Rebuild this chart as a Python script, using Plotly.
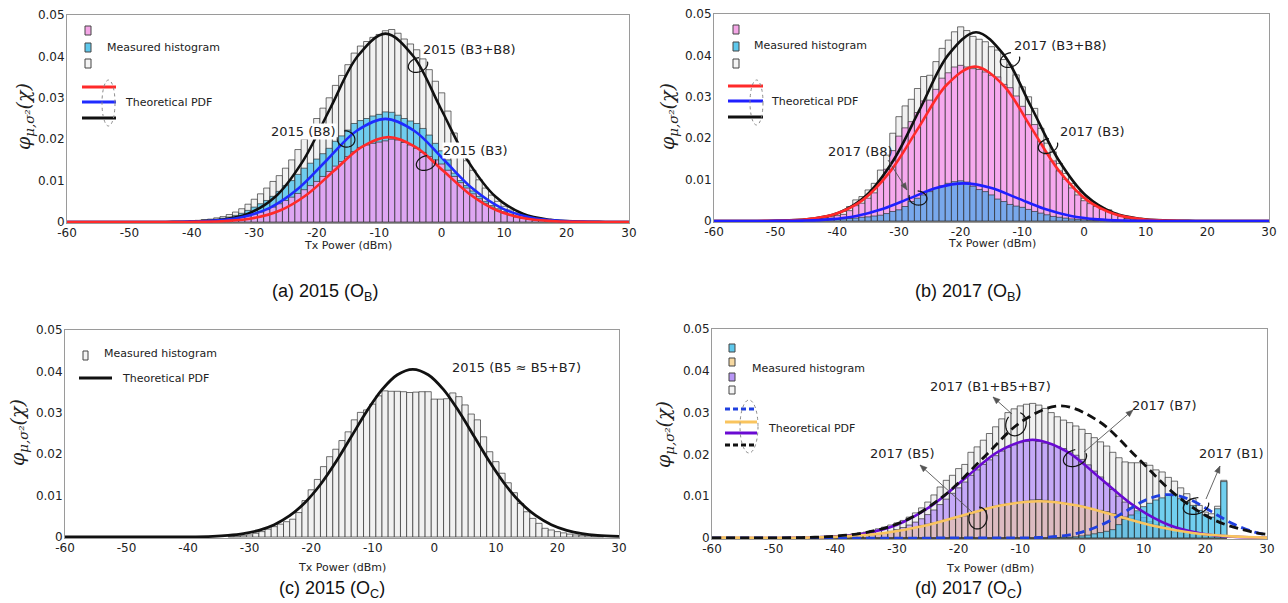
import numpy as np
import plotly.graph_objects as go

# ---------------- data ----------------
x_tick_vals = [-60, -50, -40, -30, -20, -10, 0, 10, 20, 30]
x_tick_text = ['-60', '-50', '-40', '-30', '-20', '-10', '0', '10', '20', '30']
y_tick_vals = [0, 0.01, 0.02, 0.03, 0.04, 0.05]
y_tick_text = ['0', '0.01', '0.02', '0.03', '0.04', '0.05']

# (a) 2015 O_B : histograms, 1 dBm bins
a_bins = list(range(-40, 21))
a_hist_total = [0.0003, 0.0004, 0.0006, 0.0007, 0.0010, 0.0013, 0.0018, 0.0024, 0.0032, 0.0043,
                0.0055, 0.0068, 0.0082, 0.0098, 0.0112, 0.0130, 0.0150, 0.0175, 0.0200, 0.0225,
                0.0250, 0.0275, 0.0300, 0.0330, 0.0354, 0.0380, 0.0408, 0.0425, 0.0436, 0.0446,
                0.0453, 0.0462, 0.0465, 0.0456, 0.0442, 0.0430, 0.0416, 0.0394, 0.0368, 0.0340,
                0.0312, 0.0268, 0.0215, 0.0180, 0.0148, 0.0125, 0.0102, 0.0082, 0.0065, 0.0050,
                0.0038, 0.0029, 0.0022, 0.0016, 0.0011, 0.0008, 0.0006, 0.0004, 0.0003, 0.0002, 0.0002]
a_hist_b8 = [0.0002, 0.0003, 0.0004, 0.0005, 0.0007, 0.0009, 0.0012, 0.0016, 0.0021, 0.0028,
             0.0036, 0.0044, 0.0052, 0.0062, 0.0074, 0.0088, 0.0100, 0.0115, 0.0130, 0.0142,
             0.0152, 0.0165, 0.0178, 0.0195, 0.0208, 0.0222, 0.0238, 0.0245, 0.0250, 0.0256,
             0.0260, 0.0266, 0.0265, 0.0258, 0.0250, 0.0244, 0.0238, 0.0226, 0.0210, 0.0190,
             0.0172, 0.0150, 0.0118, 0.0100, 0.0088, 0.0075, 0.0062, 0.0050, 0.0040, 0.0032,
             0.0025, 0.0019, 0.0014, 0.0010, 0.0007, 0.0005, 0.0004, 0.0003, 0.0002, 0.0002, 0.0001]
a_hist_b3 = [0.0001, 0.0001, 0.0002, 0.0002, 0.0003, 0.0004, 0.0006, 0.0008, 0.0011, 0.0015,
             0.0019, 0.0024, 0.0030, 0.0036, 0.0044, 0.0052, 0.0060, 0.0069, 0.0078, 0.0088,
             0.0098, 0.0110, 0.0122, 0.0135, 0.0146, 0.0158, 0.0170, 0.0180, 0.0186, 0.0190,
             0.0193, 0.0196, 0.0200, 0.0198, 0.0192, 0.0186, 0.0178, 0.0168, 0.0158, 0.0150,
             0.0140, 0.0125, 0.0110, 0.0095, 0.0082, 0.0068, 0.0056, 0.0045, 0.0036, 0.0028,
             0.0022, 0.0017, 0.0012, 0.0009, 0.0006, 0.0004, 0.0003, 0.0002, 0.0001, 0.0001, 0.0001]
# (a) theoretical PDFs (sampled points)
a_pdf_b3_x = [-60, -43.3, -38.95, -34.6, -30.25, -25.9, -21.55, -17.2, -12.85, -8.5,
              -4.15, 0.2, 4.55, 8.9, 13.25, 17.6, 21.95, 26.3, 30]
a_pdf_b3_y = [0, 0.00001, 0.00005, 0.00023, 0.0009, 0.00277, 0.00666, 0.01243, 0.01809, 0.0205,
              0.01809, 0.01243, 0.00666, 0.00277, 0.0009, 0.00023, 0.00005, 0.00001, 0]
a_pdf_b8_x = [-60, -46.2, -41.55, -36.9, -32.25, -27.6, -22.95, -18.3, -13.65, -9,
              -4.35, 0.3, 4.95, 9.6, 14.25, 18.9, 23.55, 28.2, 30]
a_pdf_b8_y = [0, 0.00001, 0.00006, 0.00028, 0.00109, 0.00337, 0.00808, 0.0151, 0.02197, 0.0249,
              0.02197, 0.0151, 0.00808, 0.00337, 0.00109, 0.00028, 0.00006, 0.00001, 0]
a_pdf_tot_x = [-60, -44.2, -39.8, -35.4, -31, -26.6, -22.2, -17.8, -13.4, -9,
               -4.6, -0.2, 4.2, 8.6, 13, 17.4, 21.8, 26.2, 30]
a_pdf_tot_y = [0, 0.00001, 0.0001, 0.00051, 0.0020, 0.00616, 0.01477, 0.0276, 0.04015, 0.0455,
               0.04015, 0.0276, 0.01477, 0.00616, 0.0020, 0.00051, 0.0001, 0.00001, 0]

# (b) 2017 O_B
b_bins = list(range(-45, 11))
b_hist_total = [0.0003, 0.0004, 0.0007, 0.0010, 0.0014, 0.0019, 0.0023, 0.0035, 0.0051, 0.0059,
                0.0075, 0.0091, 0.0123, 0.0159, 0.0212, 0.0252, 0.0278, 0.0294, 0.0320, 0.0349,
                0.0352, 0.0385, 0.0417, 0.0437, 0.0457, 0.0469, 0.0460, 0.0446, 0.0439, 0.0433,
                0.0421, 0.0413, 0.0390, 0.0377, 0.0353, 0.0324, 0.0300, 0.0272, 0.0224, 0.0188,
                0.0167, 0.0139, 0.0115, 0.0091, 0.0071, 0.0055, 0.0047, 0.0039, 0.0031, 0.0027,
                0.0019, 0.0012, 0.0006, 0.0003, 0.0002, 0.0001]
b_hist_b3 = [0.0002, 0.0003, 0.0005, 0.0007, 0.0010, 0.0013, 0.0016, 0.0025, 0.0037, 0.0043,
             0.0055, 0.0068, 0.0095, 0.0125, 0.0170, 0.0205, 0.0225, 0.0240, 0.0262, 0.0290,
             0.0292, 0.0318, 0.0345, 0.0358, 0.0372, 0.0376, 0.0372, 0.0368, 0.0366, 0.0360,
             0.0352, 0.0348, 0.0330, 0.0322, 0.0302, 0.0277, 0.0257, 0.0233, 0.0192, 0.0162,
             0.0145, 0.0121, 0.0101, 0.0080, 0.0063, 0.0049, 0.0042, 0.0035, 0.0028, 0.0024,
             0.0017, 0.0011, 0.0005, 0.0003, 0.0002, 0.0001]
b_hist_b8 = [0.0001, 0.0001, 0.0002, 0.0002, 0.0003, 0.0004, 0.0005, 0.0006, 0.0007, 0.0009,
             0.0010, 0.0012, 0.0014, 0.0018, 0.0023, 0.0027, 0.0035, 0.0047, 0.0055, 0.0063,
             0.0071, 0.0079, 0.0085, 0.0091, 0.0095, 0.0097, 0.0094, 0.0084, 0.0076, 0.0071,
             0.0063, 0.0053, 0.0047, 0.0040, 0.0036, 0.0033, 0.0028, 0.0023, 0.0019, 0.0015,
             0.0011, 0.0009, 0.0007, 0.0005, 0.0004, 0.0003, 0.0002, 0.0001, 0.0001, 0.0001,
             0, 0, 0, 0, 0, 0]
b_pdf_b3_x = [-60, -54.1, -49.55, -45.0, -40.45, -35.9, -31.35, -26.8, -22.25, -17.7,
              -13.15, -8.6, -4.05, 0.5, 5.05, 9.6, 14.15, 18.7, 30]
b_pdf_b3_y = [0, 0.00001, 0.00008, 0.00041, 0.00164, 0.00505, 0.01211, 0.02262, 0.03292, 0.0373,
              0.03292, 0.02262, 0.01211, 0.00505, 0.00164, 0.00041, 0.00008, 0.00001, 0]
b_pdf_b8_x = [-60, -54.3, -49.95, -45.6, -41.25, -36.9, -32.55, -28.2, -23.85, -19.5,
              -15.15, -10.8, -6.45, -2.1, 2.25, 6.6, 10.95, 15.3, 30]
b_pdf_b8_y = [0, 0, 0.00002, 0.0001, 0.0004, 0.00123, 0.00295, 0.00552, 0.00803, 0.0091,
              0.00803, 0.00552, 0.00295, 0.00123, 0.0004, 0.0001, 0.00002, 0, 0]
b_pdf_tot_x = [-60, -53.1, -48.65, -44.2, -39.75, -35.3, -30.85, -26.4, -21.95, -17.5,
               -13.05, -8.6, -4.15, 0.3, 4.75, 9.2, 13.65, 18.1, 30]
b_pdf_tot_y = [0, 0.00001, 0.0001, 0.00051, 0.0020, 0.00617, 0.01481, 0.02766, 0.04024, 0.0456,
               0.04024, 0.02766, 0.01481, 0.00617, 0.0020, 0.00051, 0.0001, 0.00001, 0]

# (c) 2015 O_C
c_bins = list(range(-33, 28))
c_hist_total = [0.0001, 0.0002, 0.0003, 0.0005, 0.0009, 0.0013, 0.0019, 0.0025, 0.0031, 0.0037,
                0.0043, 0.0059, 0.0088, 0.0114, 0.0139, 0.0170, 0.0194, 0.0212, 0.0233, 0.0254,
                0.0283, 0.0301, 0.0307, 0.0321, 0.0341, 0.0353, 0.0352, 0.0352, 0.0351, 0.0349,
                0.0350, 0.0351, 0.0351, 0.0333, 0.0333, 0.0334, 0.0348, 0.0339, 0.0319, 0.0297,
                0.0283, 0.0242, 0.0206, 0.0182, 0.0154, 0.0131, 0.0107, 0.0081, 0.0061, 0.0045,
                0.0033, 0.0021, 0.0017, 0.0013, 0.0010, 0.0007, 0.0005, 0.0004, 0.0003, 0.0002, 0.0001]
c_pdf_x = [-60, -45, -40, -36, -33.5, -31, -28.5, -26, -23.5, -21, -18.5, -16, -13.5, -11, -8.5,
           -6, -3.5, -1, 1.5, 4, 6.5, 9, 11.5, 14, 16.5, 19, 21.5, 24, 26.5, 30]
c_pdf_y = [0, 0.00001, 0.00004, 0.00017, 0.00039, 0.00082, 0.00162, 0.00298, 0.00514, 0.00834,
           0.01268, 0.0181, 0.0242, 0.0303, 0.0356, 0.0392, 0.0405, 0.0392, 0.0356, 0.0303,
           0.0242, 0.0181, 0.01268, 0.00834, 0.00514, 0.00298, 0.00162, 0.00082, 0.00039, 0.00013]

# (d) 2017 O_C
d_bins = list(range(-42, 24))
d_hist_total = [0.0004, 0.0005, 0.0006, 0.0007, 0.0008, 0.0010, 0.0012, 0.0014, 0.0018, 0.0022,
                0.0026, 0.0031, 0.0036, 0.0042, 0.0050, 0.0060, 0.0072, 0.0086, 0.0103, 0.0122,
                0.0138, 0.0150, 0.0166, 0.0176, 0.0205, 0.0218, 0.0234, 0.0250, 0.0266, 0.0285,
                0.0300, 0.0309, 0.0316, 0.0320, 0.0322, 0.0318, 0.0310, 0.0300, 0.0290, 0.0282,
                0.0276, 0.0268, 0.0260, 0.0250, 0.0240, 0.0230, 0.0220, 0.0205, 0.0192, 0.0182,
                0.0180, 0.0180, 0.0180, 0.0174, 0.0163, 0.0158, 0.0145, 0.0136, 0.0120, 0.0106,
                0.0094, 0.0078, 0.0062, 0.0058, 0.0076, 0.0138]
d_hist_b7 = [0.0002, 0.0002, 0.0003, 0.0003, 0.0004, 0.0005, 0.0006, 0.0007, 0.0009, 0.0011,
             0.0013, 0.0016, 0.0020, 0.0025, 0.0031, 0.0038, 0.0046, 0.0056, 0.0067, 0.0080,
             0.0093, 0.0107, 0.0120, 0.0134, 0.0150, 0.0163, 0.0176, 0.0187, 0.0197, 0.0208,
             0.0217, 0.0223, 0.0228, 0.0231, 0.0233, 0.0231, 0.0227, 0.0224, 0.0219, 0.0214,
             0.0206, 0.0198, 0.0188, 0.0175, 0.0160, 0.0146, 0.0131, 0.0116, 0.0100, 0.0086,
             0.0072, 0.0060, 0.0049, 0.0039, 0.0031, 0.0024, 0.0018, 0.0013, 0.0010, 0.0007,
             0.0005, 0.0004, 0.0003, 0.0002, 0.0001, 0.0001]
d_hist_b5 = [0.0002, 0.0002, 0.0003, 0.0003, 0.0004, 0.0005, 0.0006, 0.0007, 0.0008, 0.0010,
             0.0012, 0.0014, 0.0016, 0.0018, 0.0021, 0.0025, 0.0030, 0.0033, 0.0036, 0.0040,
             0.0044, 0.0046, 0.0050, 0.0053, 0.0058, 0.0063, 0.0066, 0.0072, 0.0076, 0.0080,
             0.0082, 0.0084, 0.0086, 0.0088, 0.0091, 0.0092, 0.0090, 0.0088, 0.0086, 0.0084,
             0.0080, 0.0078, 0.0076, 0.0072, 0.0068, 0.0066, 0.0063, 0.0058, 0.0055, 0.0050,
             0.0046, 0.0043, 0.0040, 0.0035, 0.0031, 0.0027, 0.0023, 0.0019, 0.0016, 0.0013,
             0.0011, 0.0009, 0.0007, 0.0006, 0.0005, 0.0004]
d_hist_b1 = [0] * 37 + [0.0001, 0.0001, 0.0002, 0.0002, 0.0003, 0.0005, 0.0007, 0.0010, 0.0013, 0.0016,
                        0.0020, 0.0032, 0.0045, 0.0055, 0.0065, 0.0075, 0.0083, 0.0091, 0.0096, 0.0103,
                        0.0104, 0.0094, 0.0086, 0.0078, 0.0066, 0.0056, 0.0050, 0.0070, 0.0135]
d_pdf_b7_x = [-60, -52, -46.5, -41, -35.5, -30, -24.5, -19, -13.5, -8, -2.5, 3, 8.5, 14, 19.5, 25, 30]
d_pdf_b7_y = [0, 0.000007, 0.00005, 0.00026, 0.00103, 0.00318, 0.00763, 0.01425, 0.02074, 0.0235,
              0.02074, 0.01425, 0.00763, 0.00318, 0.00103, 0.00026, 0.00006]
d_pdf_b5_x = [-60, -57, -50.75, -44.5, -38.25, -32, -25.75, -19.5, -13.25, -7, -0.75, 5.5, 11.75, 18, 24.25, 30]
d_pdf_b5_y = [0.0001, 0.0001, 0.00005, 0.0001, 0.00039, 0.00119, 0.00286, 0.00534, 0.00777, 0.0088,
              0.00777, 0.00534, 0.00286, 0.00119, 0.00039, 0.0001]
d_pdf_b1_x = [-60, -14, -10.5, -7, -3.5, 0, 3.5, 7, 10.5, 14, 17.5, 21, 24.5, 28, 30]
d_pdf_b1_y = [0, 0.000003, 0.00002, 0.00012, 0.00046, 0.00141, 0.00338, 0.00631, 0.00918, 0.0104,
              0.00918, 0.00631, 0.00338, 0.00141, 0.00076]
d_pdf_tot_x = [-60, -53.5, -47.25, -41, -34.75, -28.5, -22.25, -16, -9.75, -3.5, 2.75, 9, 15.25, 21.5, 27.75, 30]
d_pdf_tot_y = [0, 0.00001, 0.00007, 0.00035, 0.00139, 0.00428, 0.01026, 0.01917, 0.02789, 0.0316,
               0.02789, 0.01917, 0.01026, 0.00428, 0.00139, 0.00087]

# ---------------- layout helpers ----------------
W, H = 1288, 603
YLO = 0.00035
# plot-area pixel boxes: left, right, top(y=0.05), bottom(y=0)
boxes = {
    1: (67, 629, 15, 222),
    2: (714, 1269, 14, 221),
    3: (65, 619, 330, 537),
    4: (712, 1267, 329, 538),
}
EDGE = 'rgba(45,45,45,0.85)'
TXT = '#222222'
SANS = 'DejaVu Sans'


def P(x, y):
    return x / W, 1 - y / H


fig = go.Figure()
layout = dict(width=W, height=H, margin=dict(l=0, r=0, t=0, b=0, pad=0, autoexpand=False),
              paper_bgcolor='white', plot_bgcolor='white', barmode='overlay',
              showlegend=False, shapes=[], annotations=[])

for i, (l, r, t, b) in boxes.items():
    extra = YLO / 0.05 * (b - t)
    sx = '' if i == 1 else str(i)
    layout['xaxis' + sx] = dict(domain=[l / W, r / W], range=[-60, 30], anchor='y' + sx,
                                tickvals=x_tick_vals, ticktext=x_tick_text, ticks='',
                                automargin=False, ticklabelstandoff=-2,
                                showgrid=False, zeroline=False, showline=True, mirror=True,
                                linecolor='#9a9a9a', linewidth=1,
                                tickfont=dict(family=SANS, size=12, color=TXT))
    layout['yaxis' + sx] = dict(domain=[1 - (b + extra) / H, 1 - t / H], range=[-YLO, 0.05],
                                anchor='x' + sx, tickvals=y_tick_vals, ticktext=y_tick_text,
                                ticks='', showgrid=False, zeroline=False, showline=True,
                                automargin=False, ticklabelstandoff=-1,
                                mirror=True, linecolor='#9a9a9a', linewidth=1,
                                tickfont=dict(family=SANS, size=12, color=TXT))


def bars(i, xs, ys, color):
    sx = '' if i == 1 else str(i)
    fig.add_trace(go.Bar(x=xs, y=ys, width=1, marker=dict(color=color, line=dict(color=EDGE, width=0.8)),
                         xaxis='x' + sx, yaxis='y' + sx, hoverinfo='skip'))


def curve(i, xs, ys, color, dash='solid', width=2.6):
    sx = '' if i == 1 else str(i)
    fig.add_trace(go.Scatter(x=xs, y=ys, mode='lines', line=dict(color=color, width=width, dash=dash,
                                                                 shape='spline', smoothing=1.0),
                             xaxis='x' + sx, yaxis='y' + sx, hoverinfo='skip'))


def text(x, y, s, size=13, anchor='center', bg=None, family=SANS, angle=0, color=TXT):
    px, py = P(x, y)
    a = dict(x=px, y=py, xref='paper', yref='paper', text=s, showarrow=False,
             xanchor=anchor, yanchor='middle', textangle=angle,
             font=dict(family=family, size=size, color=color))
    if bg:
        a.update(bgcolor=bg, borderpad=0)
    layout['annotations'].append(a)


def arrow(hx, hy, tx, ty):
    a, b_ = P(tx, ty)
    c, d = P(hx, hy)
    layout['shapes'].append(dict(type='line', xref='paper', yref='paper', x0=a, y0=b_, x1=c, y1=d,
                                 line=dict(color='#555555', width=0.9)))
    v = np.array([hx - tx, hy - ty], float)
    v /= np.linalg.norm(v)
    n = np.array([-v[1], v[0]])
    base = np.array([hx, hy]) - 7 * v
    p1 = base + 2.8 * n
    p2 = base - 2.8 * n
    pts = [(hx, hy), tuple(p1), tuple(p2)]
    path = 'M ' + ' L '.join(f'{x / W:.5f},{1 - y / H:.5f}' for x, y in pts) + ' Z'
    layout['shapes'].append(dict(type='path', xref='paper', yref='paper', path=path,
                                 fillcolor='#555555', line=dict(color='#555555', width=0.5)))


def rect(x0, y0, x1, y1, fill):
    a, b_ = P(x0, y0)
    c, d = P(x1, y1)
    layout['shapes'].append(dict(type='rect', xref='paper', yref='paper', x0=a, y0=d, x1=c, y1=b_,
                                 fillcolor=fill, line=dict(color='#444444', width=1)))


def hline(x0, x1, y, color, dash='solid', width=3):
    a, b_ = P(x0, y)
    c, _ = P(x1, y)
    layout['shapes'].append(dict(type='line', xref='paper', yref='paper', x0=a, y0=b_, x1=c, y1=b_,
                                 line=dict(color=color, width=width, dash=dash)))


def ellipse(x0, y0, x1, y1):
    a, b_ = P(x0, y0)
    c, d = P(x1, y1)
    layout['shapes'].append(dict(type='circle', xref='paper', yref='paper', x0=a, y0=d, x1=c, y1=b_,
                                 line=dict(color='#8a8a8a', width=1, dash='dot')))


def curl(cx, cy, rx, ry, rot, gap):
    t = np.radians(np.linspace(gap + 40, gap + 330, 40))
    R = np.radians(rot)
    xs = cx + rx * np.cos(t) * np.cos(R) - ry * np.sin(t) * np.sin(R)
    ys = cy + rx * np.cos(t) * np.sin(R) + ry * np.sin(t) * np.cos(R)
    path = 'M ' + ' L '.join(f'{x / W:.5f},{1 - y / H:.5f}' for x, y in zip(xs, ys))
    layout['shapes'].append(dict(type='path', xref='paper', yref='paper', path=path,
                                 line=dict(color='#111111', width=1.2)))


# ---------------- panel (a) ----------------
bars(1, a_bins, a_hist_total, '#f1f1f1')
bars(1, a_bins, a_hist_b8, '#6fcdee')
bars(1, a_bins, a_hist_b3, '#dea6f2')
curve(1, a_pdf_tot_x, a_pdf_tot_y, '#111111')
curve(1, a_pdf_b8_x, a_pdf_b8_y, '#1f2bff')
curve(1, a_pdf_b3_x, a_pdf_b3_y, '#ff2a2a')

# ---------------- panel (b) ----------------
bars(2, b_bins, b_hist_total, '#f1f1f1')
bars(2, b_bins, b_hist_b3, '#f6a9ee')
bars(2, b_bins, b_hist_b8, '#78a8ec')
curve(2, b_pdf_tot_x, b_pdf_tot_y, '#111111')
curve(2, b_pdf_b3_x, b_pdf_b3_y, '#ff2a2a')
curve(2, b_pdf_b8_x, b_pdf_b8_y, '#1f1fff')

# ---------------- panel (c) ----------------
bars(3, c_bins, c_hist_total, '#f1f1f1')
curve(3, c_pdf_x, c_pdf_y, '#111111', width=2.8)

# ---------------- panel (d) ----------------
bars(4, d_bins, d_hist_total, '#f1f1f1')
bars(4, d_bins, d_hist_b7, 'rgba(170,125,250,0.62)')
bars(4, d_bins, d_hist_b5, 'rgba(235,198,160,0.62)')
bars(4, d_bins, d_hist_b1, 'rgba(70,195,238,0.75)')
curve(4, d_pdf_b7_x, d_pdf_b7_y, '#6a0ad2')
curve(4, d_pdf_b5_x, d_pdf_b5_y, '#f9c45e')
curve(4, d_pdf_b1_x, d_pdf_b1_y, '#2040e0', dash='9px,5px', width=2.8)
curve(4, d_pdf_tot_x, d_pdf_tot_y, '#111111', dash='9px,5px', width=2.8)

# ---------------- legends ----------------
# (a)
rect(85, 26, 91, 35, '#f4a6e6')
rect(85, 43, 91, 52, '#5ec8ec')
rect(85, 59, 91, 68, '#f4f4f4')
text(105, 48, 'Measured histogram', size=11, anchor='left')
hline(82, 116, 87, '#ff2a2a')
hline(82, 116, 102, '#1f2bff')
hline(82, 116, 118, '#111111')
ellipse(102, 80, 115, 126)
text(123, 102, 'Theoretical PDF', size=11, anchor='left')
# (b)
rect(733, 25, 739, 34, '#f4a6e6')
rect(733, 42, 739, 51, '#5ec8ec')
rect(733, 59, 739, 68, '#f4f4f4')
text(752, 46, 'Measured histogram', size=11, anchor='left')
hline(728, 763, 86, '#ff2a2a')
hline(728, 763, 101, '#1f1fff')
hline(728, 763, 117, '#111111')
ellipse(750, 80, 763, 125)
text(769, 101, 'Theoretical PDF', size=11, anchor='left')
# (c)
rect(83, 351, 88, 360, '#f4f4f4')
text(102, 353, 'Measured histogram', size=11, anchor='left')
hline(79, 112, 378, '#111111')
text(120, 378, 'Theoretical PDF', size=11, anchor='left')
# (d)
rect(729, 344, 735, 352, '#5ec8ec')
rect(729, 358, 735, 366, '#f6d8a0')
rect(729, 373, 735, 381, '#b896f6')
rect(729, 386, 735, 394, '#f4f4f4')
text(750, 368, 'Measured histogram', size=11, anchor='left')
hline(725, 757, 409, '#2040e0', dash='5px,3px')
hline(725, 757, 422, '#f9c45e')
hline(725, 757, 433, '#6a0ad2')
hline(725, 757, 445, '#111111', dash='5px,3px')
ellipse(740, 400, 758, 453)
text(766, 428, 'Theoretical PDF', size=11, anchor='left')

# ---------------- labels and curls ----------------
text(469, 50, '2015 (B3+B8)')
curl(418, 65, 10, 7, -20, -40)
text(303, 131, '2015 (B8)', bg='white')
curl(346, 139, 9, 8, 20, 200)
text(476, 150, '2015 (B3)', bg='white')
curl(426, 163, 10, 7, -20, -40)

text(1060, 46, '2017 (B3+B8)')
curl(1010, 60, 10, 7, -20, -40)
text(1092, 131, '2017 (B3)')
curl(1048, 146, 10, 7, -20, -40)
text(860, 151, '2017 (B8)')
arrow(907, 190, 888, 160)
curl(918, 198, 9, 7, 10, 220)

text(516, 367, '2015 (B5 ≈ B5+B7)')

text(990, 386, '2017 (B1+B5+B7)')
arrow(993, 397, 1012, 414)
curl(1016, 424, 10, 12, 20, 230)
text(1164, 405, '2017 (B7)')
arrow(1133, 410, 1084, 452)
curl(1075, 458, 12, 8, -20, -45)
text(1231, 453, '2017 (B1)')
arrow(1220, 466, 1206, 499)
curl(1196, 506, 13, 8, -15, -40)
text(902, 453, '2017 (B5)')
arrow(920, 465, 972, 512)
curl(978, 518, 9, 11, 10, 225)

# axis titles and captions
for (l, r, t, b), (cx, cy) in zip(boxes.values(), [(24, 117), (668, 117), (19, 433), (664, 435)]):
    text((l + r) / 2, b + 23 if t < 100 else b + 30, 'Tx Power (dBm)', size=11)
    text(cx, cy, '<i>φ</i><sub><i>μ,σ²</i></sub><i>(χ)</i>', size=19, family='DejaVu Serif', angle=-90)

text(325, 292, '(a) 2015 (O<sub>B</sub>)', size=18, family='Liberation Sans', color='#111111')
text(968, 292, '(b) 2017 (O<sub>B</sub>)', size=18, family='Liberation Sans', color='#111111')
text(332, 589, '(c) 2015 (O<sub>C</sub>)', size=18, family='Liberation Sans', color='#111111')
text(968, 589, '(d) 2017 (O<sub>C</sub>)', size=18, family='Liberation Sans', color='#111111')

fig.update_layout(**layout)
fig.write_html('out.html', config={'displayModeBar': False},
               post_script="document.body.style.margin='0px';document.body.style.overflow='hidden';")
